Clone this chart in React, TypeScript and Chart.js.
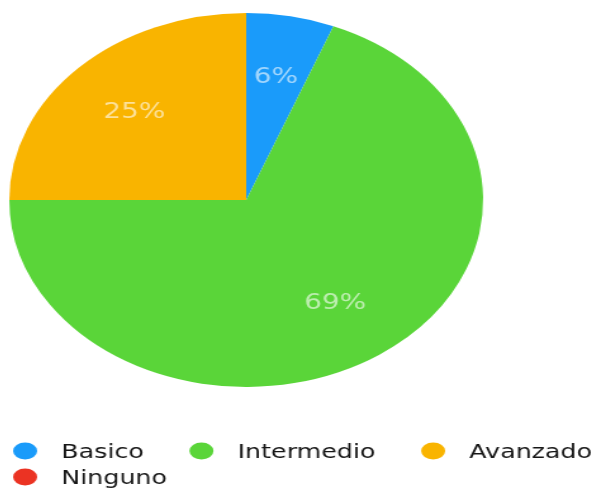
import React, { useEffect, useRef } from "react";
import { Chart, registerables } from "chart.js";

Chart.register(...registerables);

const categories = ["Basico", "Intermedio", "Avanzado", "Ninguno"];
const percentages = [6, 69, 25, 0];
const sliceColors = ["#1A9BFA", "#5AD539", "#F9B400", "#EB3323"];

const STRETCH_X = 1.267;
const CANVAS_W = 468;
const CANVAS_H = 480;

const sliceLabels = {
  id: "sliceLabels",
  afterDatasetsDraw(chart: any) {
    const ctx = chart.ctx;
    const meta = chart.getDatasetMeta(0);
    ctx.save();
    ctx.font = "22px 'DejaVu Sans'";
    ctx.fillStyle = "rgba(255,255,255,0.6)";
    ctx.textAlign = "center";
    ctx.textBaseline = "middle";
    meta.data.forEach((arc: any, i: number) => {
      const v = percentages[i];
      if (!v) return;
      const p = arc.getProps(["x", "y", "startAngle", "endAngle", "outerRadius"], true);
      const mid = (p.startAngle + p.endAngle) / 2;
      const r = p.outerRadius * 0.667;
      ctx.fillText(`${v}%`, p.x + Math.cos(mid) * r, p.y + Math.sin(mid) * r);
    });
    ctx.restore();
  },
};

const customLegend = {
  id: "customLegend",
  afterDraw(chart: any) {
    const ctx = chart.ctx;
    ctx.save();
    ctx.font = "20px 'DejaVu Sans'";
    ctx.textBaseline = "middle";
    ctx.textAlign = "left";
    const startX = 4;
    const rowH = 26;
    const markW = 19;
    const markH = 17;
    const textOff = 38;
    const gap = 36;
    let x = startX;
    let y = 444.5;
    categories.forEach((label, i) => {
      const w = textOff + ctx.measureText(label).width;
      if (x > startX && x + w > chart.width + 2) {
        x = startX;
        y += rowH;
      }
      ctx.fillStyle = sliceColors[i];
      ctx.beginPath();
      ctx.ellipse(x + markW / 2, y - 1.5, markW / 2, markH / 2, 0, 0, Math.PI * 2);
      ctx.fill();
      ctx.fillStyle = "#161616";
      ctx.fillText(label, x + textOff, y);
      x += w + gap;
    });
    ctx.restore();
  },
};

export default function App() {
  const ref = useRef<HTMLCanvasElement | null>(null);
  useEffect(() => {
    if (!ref.current) return;
    const chart = new Chart(ref.current, {
      type: "pie",
      data: {
        labels: categories,
        datasets: [
          {
            data: percentages,
            backgroundColor: sliceColors,
            borderWidth: 0,
          },
        ],
      },
      options: {
        responsive: true,
        maintainAspectRatio: false,
        animation: false,
        layout: { padding: { left: 1, top: 5, right: 93, bottom: 101 } },
        plugins: {
          legend: { display: false },
          tooltip: { enabled: false },
        },
      },
      plugins: [sliceLabels, customLegend],
    });
    return () => chart.destroy();
  }, []);
  return (
    <div
      style={{
        width: CANVAS_W,
        height: CANVAS_H,
        transform: `scaleX(${STRETCH_X})`,
        transformOrigin: "0 0",
      }}
    >
      <canvas ref={ref} />
    </div>
  );
}
